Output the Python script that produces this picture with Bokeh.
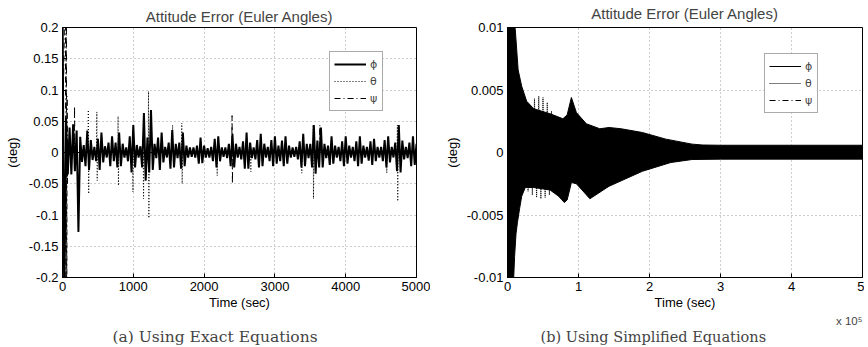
from bokeh.plotting import figure
from bokeh.models import Range1d, FixedTicker, Legend, LegendItem, Title
from bokeh.layouts import row
from bokeh.embed import file_html
from bokeh.resources import INLINE

# ---------------- (a) Using Exact Equations ----------------
a_time = list(range(0, 5001, 25))  # sample times (sec)
a_phi = [
    0.25, -0.25, 0.055, -0.035, 0.04, -0.035, 0.045, -0.03, 0.035, -0.127,
    0.025, -0.015, 0.012, -0.022, 0.035, -0.028, 0.02, -0.012, 0.009, -0.014,
    0.022, -0.028, 0.032, -0.016, 0.01, -0.008, 0.016, -0.022, 0.026, -0.014,
    0.016, -0.024, 0.032, -0.022, 0.014, -0.008, 0.008, -0.014, 0.026, -0.032,
    0.044, -0.024, 0.012, -0.008, 0.01, -0.024, 0.063, -0.045, 0.024, -0.032,
    0.068, -0.028, 0.014, -0.009, 0.024, -0.028, 0.032, -0.016, 0.009, -0.008,
    0.016, -0.026, 0.036, -0.024, 0.014, -0.009, 0.016, -0.026, 0.032, -0.022,
    0.011, -0.008, 0.008, -0.007, 0.008, -0.008, 0.011, -0.018, 0.024, -0.017,
    0.011, -0.008, 0.007, -0.008, 0.009, -0.014, 0.022, -0.024, 0.026, -0.014,
    0.008, -0.007, 0.008, -0.009, 0.014, -0.022, 0.03, -0.024, 0.014, -0.008,
    0.009, -0.011, 0.018, -0.026, 0.032, -0.026, 0.016, -0.009, 0.008, -0.011,
    0.02, -0.024, 0.03, -0.022, 0.014, -0.008, 0.009, -0.014, 0.02, -0.022,
    0.026, -0.018, 0.011, -0.014, 0.019, -0.022, 0.026, -0.018, 0.011, -0.008,
    0.008, -0.007, 0.009, -0.011, 0.018, -0.024, 0.03, -0.022, 0.014, -0.009,
    0.014, -0.024, 0.044, -0.034, 0.019, -0.024, 0.04, -0.024, 0.014, -0.009,
    0.011, -0.02, 0.026, -0.018, 0.011, -0.008, 0.009, -0.014, 0.018, -0.022,
    0.026, -0.018, 0.011, -0.008, 0.009, -0.014, 0.018, -0.022, 0.026, -0.018,
    0.011, -0.008, 0.009, -0.013, 0.018, -0.02, 0.022, -0.014, 0.009, -0.008,
    0.009, -0.014, 0.02, -0.024, 0.026, -0.016, 0.009, -0.008, 0.016, -0.03,
    0.044, -0.032, 0.019, -0.011, 0.009, -0.009, 0.016, -0.022, 0.026, -0.02,
    0.014,
]
a_theta_t = [0, 360, 365, 370, 375, 480, 485, 490, 495, 780, 785, 790, 795,
             990, 995, 1000, 1140, 1145, 1150, 1210, 1215, 1220, 1225,
             1550, 1555, 1560, 1680, 1685, 1690, 1695, 2180, 2185, 2190,
             2655, 2660, 2665, 3375, 3380, 3385, 3535, 3540, 3545, 3550,
             4575, 4580, 4585, 4725, 4730, 4735, 4740, 5000]
a_theta = [0, 0, 0.068, -0.066, 0, 0, 0.065, -0.045, 0, 0, 0.058, -0.053, 0,
           0, -0.063, 0, 0, -0.074, 0, 0, 0.098, -0.105, 0,
           0, 0.044, 0, 0, 0.047, -0.05, 0, 0, -0.037, 0,
           0, -0.031, 0, 0, -0.033, 0, 0, 0.044, -0.074, 0,
           0, -0.033, 0, 0, 0.044, -0.078, 0, 0]
a_psi_t = [0, 40, 50, 55, 60, 65, 70, 75, 165, 170, 175,
           2390, 2395, 2400, 2405, 3630, 3635, 3640, 5000]
a_psi = [0, 0.3, -0.3, 0.3, -0.3, 0.09, -0.05, 0, 0, 0.074, 0,
         0, 0.059, -0.05, 0, 0, 0.044, 0, 0]
a_yticks = [-0.2, -0.15, -0.1, -0.05, 0, 0.05, 0.1, 0.15, 0.2]
a_ylabels = ["-0.2", "-0.15", "-0.1", "-0.05", "0", "0.05", "0.1", "0.15", "0.2"]
a_xticks = [0, 1000, 2000, 3000, 4000, 5000]
a_xlabels = ["0", "1000", "2000", "3000", "4000", "5000"]

# ---------------- (b) Using Simplified Equations ----------------
b_up_t = [0, 2000, 8000, 11000, 15000, 20000, 27000, 37000, 60000, 78000,
          84000, 90000, 97000, 111000, 130000, 143000, 160000, 190000,
          223000, 260000, 275000, 300000, 400000, 500000]
b_up = [0.012, 0.012, 0.011, 0.0098, 0.0066, 0.0053, 0.0041, 0.0035, 0.0031,
        0.0027, 0.003, 0.0044, 0.0032, 0.0023, 0.0019, 0.002, 0.0019, 0.0016,
        0.00107, 0.00067, 0.0006, 0.00058, 0.00058, 0.00058]
b_lo_t = [0, 2000, 8000, 10000, 12000, 14000, 17000, 20000, 25000, 37000,
          60000, 72000, 80000, 84000, 90000, 97000, 105000, 116000, 143000,
          190000, 230000, 260000, 300000, 500000]
b_lo = [-0.012, -0.012, -0.011, -0.0083, -0.0065, -0.0056, -0.0045, -0.0035,
        -0.0028, -0.0028, -0.003, -0.0035, -0.004, -0.0038, -0.0024, -0.0025,
        -0.003, -0.0037, -0.0027, -0.0015, -0.0008, -0.00056, -0.00053, -0.00053]
b_theta_t = [26000, 29000, 32000, 35000, 38000, 41000, 44000, 47000, 50000,
             53000, 56000, 59000, 62000, 65000]
b_theta = [0.003, -0.0031, 0.0038, -0.0034, 0.0043, -0.0036, 0.0045, -0.0037,
           0.0044, -0.0036, 0.004, -0.0034, 0.0033, -0.003]
b_psi_t = [0, 100000, 200000, 300000, 400000, 500000]
b_psi = [0, 0, 0, 0, 0, 0]
b_yticks = [-0.01, -0.005, 0, 0.005, 0.01]
b_ylabels = ["-0.01", "-0.005", "0", "0.005", "0.01"]
b_xticks = [0, 100000, 200000, 300000, 400000, 500000]
b_xlabels = ["0", "1", "2", "3", "4", "5"]

FONT = "Liberation Sans"
SERIF = "DejaVu Serif"


def style(p, xticks, xlabels, yticks, ylabels):
    p.outline_line_color = "black"
    p.outline_line_width = 1
    p.xaxis.ticker = FixedTicker(ticks=xticks)
    p.yaxis.ticker = FixedTicker(ticks=yticks)
    p.xaxis.major_label_overrides = dict(zip(xticks, xlabels))
    p.yaxis.major_label_overrides = dict(zip(yticks, ylabels))
    for ax in (p.xaxis, p.yaxis):
        ax.major_tick_in = 4
        ax.major_tick_out = 0
        ax.minor_tick_line_color = None
        ax.axis_line_color = "black"
        ax.major_tick_line_color = "black"
        ax.major_label_text_font = FONT
        ax.major_label_text_font_size = "13px"
        ax.major_label_text_color = "black"
        ax.axis_label_text_font = FONT
        ax.axis_label_text_font_size = "13px"
        ax.axis_label_text_font_style = "normal"
        ax.axis_label_text_color = "black"
    p.xaxis.major_label_standoff = 4
    p.yaxis.major_label_standoff = 4
    p.xaxis.axis_label_standoff = 1
    p.grid.grid_line_color = "#9a9a9a"
    p.grid.grid_line_dash = "1 3"
    p.grid.grid_line_width = 1
    p.background_fill_color = "white"
    p.border_fill_color = "white"
    p.title.text_font = FONT
    p.title.text_font_size = "15px"
    p.title.text_font_style = "normal"
    p.title.align = "center"
    p.title.offset = 0


def add_legend(p, items, loc):
    leg = Legend(items=items, location=loc)
    leg.border_line_color = "#555555"
    leg.border_line_width = 1
    leg.background_fill_color = "white"
    leg.background_fill_alpha = 1
    leg.label_text_font = "DejaVu Sans"
    leg.label_text_font_size = "11px"
    leg.glyph_width = 32
    leg.glyph_height = 16
    leg.label_height = 16
    leg.label_width = 8
    leg.label_standoff = 4
    leg.spacing = 1
    leg.padding = 4
    leg.margin = 0
    p.add_layout(leg)


# ---- left figure ----
pa = figure(width=434, height=351, output_backend="svg", toolbar_location=None,
            x_range=Range1d(0, 5000), y_range=Range1d(-0.2, 0.2),
            title="Attitude Error (Euler Angles)",
            min_border_left=66, min_border_right=14, min_border_top=31,
            min_border_bottom=70)
style(pa, a_xticks, a_xlabels, a_yticks, a_ylabels)
pa.title.standoff = 6
pa.xaxis.axis_label = "Time (sec)"
pa.yaxis.axis_label = "(deg)"
pa.yaxis.axis_label_standoff = 6
ra1 = pa.line(a_time, a_phi, line_color="black", line_width=2)
ra2 = pa.line(a_theta_t, a_theta, line_color="black", line_width=1, line_dash="1 2")
ra3 = pa.line(a_psi_t, a_psi, line_color="black", line_width=1, line_dash="6 3 1 3")
add_legend(pa, [LegendItem(label="ϕ", renderers=[ra1]),
                LegendItem(label="θ", renderers=[ra2]),
                LegendItem(label="ψ", renderers=[ra3])], (267, 166))
pa.add_layout(Title(text=" ", text_font=FONT, text_font_size="2px",
                    standoff=9), "below")
pa.add_layout(Title(text="(a) Using Exact Equations", align="left",
                    text_font=SERIF, text_font_size="15.5px",
                    text_font_style="normal", standoff=0, offset=50), "below")

# ---- right figure ----
pb = figure(width=434, height=351, output_backend="svg", toolbar_location=None,
            x_range=Range1d(0, 500000), y_range=Range1d(-0.01, 0.01),
            title="Attitude Error (Euler Angles)",
            min_border_left=77, min_border_right=2, min_border_top=31,
            min_border_bottom=70)
style(pb, b_xticks, b_xlabels, b_yticks, b_ylabels)
pb.title.standoff = 12
pb.xaxis.axis_label = "Time (sec)"
pb.yaxis.axis_label = "(deg)"
pb.yaxis.axis_label_standoff = 4
env_x = b_up_t + b_lo_t[::-1]
env_y = b_up + b_lo[::-1]
pb.patch(env_x, env_y, fill_color="black", line_color=None)
rb1 = pb.line(env_x, env_y, line_color="black", line_width=1)
rb2 = pb.line(b_theta_t, b_theta, line_color="black", line_width=1, line_dash="1 1")
rb3 = pb.line(b_psi_t, b_psi, line_color="black", line_width=1, line_dash="6 3 1 3")
add_legend(pb, [LegendItem(label="ϕ", renderers=[rb1]),
                LegendItem(label="θ", renderers=[rb2]),
                LegendItem(label="ψ", renderers=[rb3])], (257, 164))
pb.add_layout(Title(text="x 10⁵", align="right", text_font=FONT,
                    text_font_size="11.5px", text_font_style="normal",
                    standoff=0), "below")
pb.add_layout(Title(text="(b) Using Simplified Equations", align="left",
                    text_font=SERIF, text_font_size="14.5px",
                    text_font_style="normal", standoff=0, offset=33), "below")

layout = row(pa, pb, spacing=0, margin=(-4, -4, -4, -4))
open("out.html", "w").write(file_html(layout, INLINE))
